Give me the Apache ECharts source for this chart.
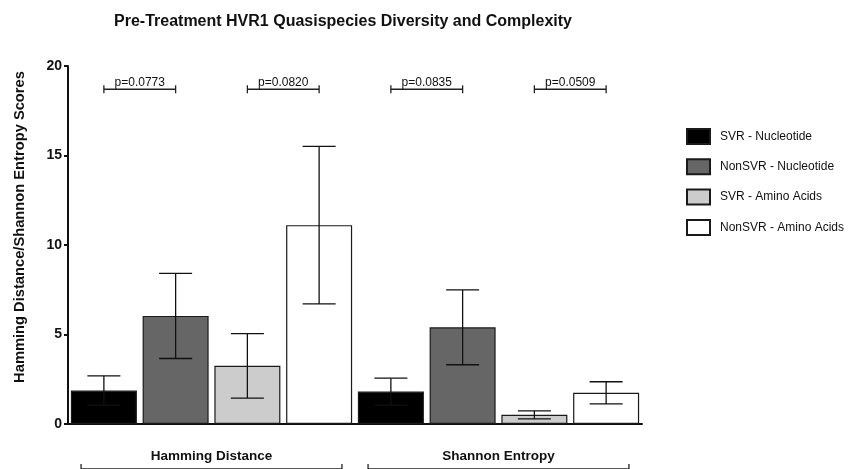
<!DOCTYPE html>
<html>
<head>
<meta charset="utf-8">
<script src="https://cdn.jsdelivr.net/npm/echarts@6/dist/echarts.min.js"></script>
<style>
  html, body { margin: 0; padding: 0; background: #fff; }
  #chart { width: 859px; height: 469px; }
</style>
</head>
<body>
<div id="chart"></div>
<script>
// Measures shown on the x axis
const categories = ['Hamming Distance', 'Shannon Entropy'];

// Group names (legend order) and fills
const seriesNames = ['SVR - Nucleotide', 'NonSVR - Nucleotide', 'SVR - Amino Acids', 'NonSVR - Amino Acids'];
const seriesColors = ['#000000', '#666666', '#cccccc', '#ffffff'];

// Mean scores per measure, one array per group
const svrNucleotide = [1.87, 1.81];
const nonSvrNucleotide = [6.04, 5.40];
const svrAminoAcids = [3.25, 0.51];
const nonSvrAminoAcids = [11.11, 1.74];

// Error (±) per measure, one array per group
const svrNucleotideErr = [0.82, 0.75];
const nonSvrNucleotideErr = [2.38, 2.09];
const svrAminoAcidsErr = [1.80, 0.22];
const nonSvrAminoAcidsErr = [4.40, 0.62];

// Pairwise comparisons: [measure index, group a, group b, label]
const comparisonCats = [0, 0, 1, 1];
const comparisonA = [0, 2, 0, 2];
const comparisonB = [1, 3, 1, 3];
const comparisonLabels = ['p=0.0773', 'p=0.0820', 'p=0.0835', 'p=0.0509'];
const comparisonLevel = 18.7;

// Y axis ticks
const yMin = 0, yMax = 20, yStep = 5;

const means = [svrNucleotide, nonSvrNucleotide, svrAminoAcids, nonSvrAminoAcids];
const errs = [svrNucleotideErr, nonSvrNucleotideErr, svrAminoAcidsErr, nonSvrAminoAcidsErr];
const nGroups = seriesNames.length;

// Horizontal offset of bar g inside its category (bars evenly share the band)
function barOffset(g, band) {
  return (g - (nGroups - 1) / 2) * band / nGroups;
}

const barSeries = seriesNames.map((name, g) => ({
  name: name,
  type: 'bar',
  data: means[g],
  barGap: '8.7%',
  barCategoryGap: '2%',
  itemStyle: { color: seriesColors[g], borderColor: '#1a1a1a', borderWidth: 1.2 },
  z: 2
}));

// Error bar rows: [category, group, mean, err]
const errRows = [];
means.forEach((arr, g) => arr.forEach((v, c) => errRows.push([c, g, v, errs[g][c]])));

const errorSeries = {
  type: 'custom',
  z: 5,
  silent: true,
  encode: { x: 0, y: 2 },
  data: errRows,
  renderItem: function (params, api) {
    const c = api.value(0), g = api.value(1), m = api.value(2), e = api.value(3);
    const band = api.size([1, 0])[0];
    const cx = api.coord([c, m])[0] + barOffset(g, band);
    const yHi = api.coord([c, m + e])[1];
    const yLo = api.coord([c, m - e])[1];
    const half = 16.5;
    const st = { stroke: '#111', lineWidth: 1.3 };
    return {
      type: 'group',
      children: [
        { type: 'line', shape: { x1: cx, y1: yHi, x2: cx, y2: yLo }, style: st },
        { type: 'line', shape: { x1: cx - half, y1: yHi, x2: cx + half, y2: yHi }, style: st },
        { type: 'line', shape: { x1: cx - half, y1: yLo, x2: cx + half, y2: yLo }, style: st }
      ]
    };
  }
};

// p-value brackets above each pair of bars
const compRows = comparisonLabels.map((lab, i) => [comparisonCats[i], comparisonA[i], comparisonB[i], comparisonLevel, i]);
const comparisonSeries = {
  type: 'custom',
  z: 5,
  silent: true,
  encode: { x: 0, y: 3 },
  data: compRows,
  renderItem: function (params, api) {
    const c = api.value(0), a = api.value(1), b = api.value(2), lvl = api.value(3);
    const idx = api.value(4);
    const band = api.size([1, 0])[0];
    const p = api.coord([c, lvl]);
    const x1 = p[0] + barOffset(a, band);
    const x2 = p[0] + barOffset(b, band);
    const y = p[1];
    const st = { stroke: '#222', lineWidth: 1.3 };
    return {
      type: 'group',
      children: [
        { type: 'line', shape: { x1: x1, y1: y, x2: x2, y2: y }, style: st },
        { type: 'line', shape: { x1: x1, y1: y - 4, x2: x1, y2: y + 4 }, style: st },
        { type: 'line', shape: { x1: x2, y1: y - 4, x2: x2, y2: y + 4 }, style: st },
        { type: 'text', x: (x1 + x2) / 2, y: y - 1,
          style: { text: comparisonLabels[idx], align: 'center', verticalAlign: 'bottom',
                   font: '12px "Liberation Sans", Arial, sans-serif', fill: '#111' } }
      ]
    };
  }
};

// Brackets spanning each measure group beneath the axis labels
const groupBracketSeries = {
  type: 'custom',
  z: 5,
  silent: true,
  encode: { x: 0, y: 1 },
  data: categories.map((c, i) => [i, 0]),
  renderItem: function (params, api) {
    const band = api.size([1, 0])[0];
    const p = api.coord([api.value(0), 0]);
    const half = band * 0.4545;
    const y = p[1] + 45;
    const st = { stroke: '#222', lineWidth: 1.3 };
    return {
      type: 'group',
      children: [
        { type: 'line', shape: { x1: p[0] - half, y1: y, x2: p[0] + half, y2: y }, style: st },
        { type: 'line', shape: { x1: p[0] - half, y1: y - 5, x2: p[0] - half, y2: y }, style: st },
        { type: 'line', shape: { x1: p[0] + half, y1: y - 5, x2: p[0] + half, y2: y }, style: st }
      ]
    };
  }
};

const chart = echarts.init(document.getElementById('chart'), null, { renderer: 'canvas' });
chart.setOption({
  backgroundColor: '#ffffff',
  animation: false,
  textStyle: { fontFamily: '"Liberation Sans", Arial, sans-serif' },
  grid: { left: 68, right: 217, top: 66, bottom: 45, containLabel: false },
  legend: {
    orient: 'vertical',
    left: 686,
    top: 128,
    padding: 0,
    itemWidth: 23,
    itemHeight: 15,
    itemGap: 13.3,
    icon: 'rect',
    data: seriesNames,
    textStyle: { fontSize: 12, color: '#111', padding: [0, 0, 0, 5] }
  },
  xAxis: {
    type: 'category',
    data: categories,
    axisLine: { lineStyle: { color: '#111', width: 2 } },
    axisTick: { show: false },
    axisLabel: { fontSize: 13.5, fontWeight: 'bold', color: '#111', margin: 25 },
    splitLine: { show: false }
  },
  yAxis: {
    type: 'value',
    min: yMin,
    max: yMax,
    interval: yStep,
    axisLine: { show: true, lineStyle: { color: '#111', width: 2 } },
    axisTick: { show: true, length: 4, lineStyle: { color: '#111', width: 2 } },
    axisLabel: { fontSize: 14, fontWeight: 'bold', color: '#111', margin: 6 },
    splitLine: { show: false }
  },
  graphic: [
    { type: 'text', x: 343, y: 22,
      style: { text: 'Pre-Treatment HVR1 Quasispecies Diversity and Complexity', align: 'center', verticalAlign: 'middle',
               font: 'bold 16px "Liberation Sans", Arial, sans-serif', fill: '#111' } },
    { type: 'text', x: 20, y: 227, rotation: Math.PI / 2,
      style: { text: 'Hamming Distance/Shannon Entropy Scores', align: 'center', verticalAlign: 'middle',
               font: 'bold 14.7px "Liberation Sans", Arial, sans-serif', fill: '#111' } }
  ],
  series: barSeries.concat([errorSeries, comparisonSeries, groupBracketSeries])
});
</script>
</body>
</html>
